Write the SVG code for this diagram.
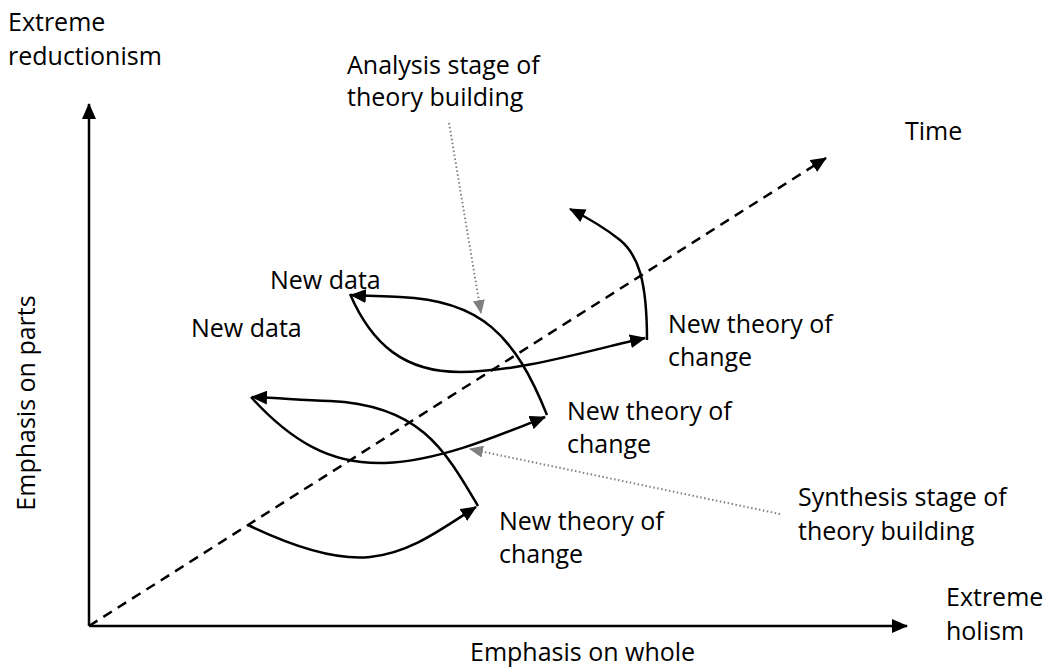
<svg xmlns="http://www.w3.org/2000/svg" width="1046" height="670" viewBox="0 0 1046 670">
<style>
text{font-family:"Open Sans","Liberation Sans",sans-serif;font-size:25px;fill:#000}
.ln{fill:none;stroke:#000;stroke-width:2.5}
.dash{fill:none;stroke:#000;stroke-width:2.5;stroke-dasharray:10 7}
.dot{fill:none;stroke:#808080;stroke-width:2;stroke-dasharray:1.5 2.5}
</style>
<defs>
<marker id="ah" markerUnits="userSpaceOnUse" markerWidth="16" markerHeight="14" refX="15" refY="7" orient="auto"><path d="M0,0 L16,7 L0,14 z" fill="#000"/></marker>
<marker id="ahg" markerUnits="userSpaceOnUse" markerWidth="14" markerHeight="12" refX="13" refY="6" orient="auto"><path d="M0,0 L14,6 L0,12 z" fill="#808080"/></marker>
</defs>
<g id="axes">
<path class="ln" d="M89,626 L89,104" marker-end="url(#ah)"/>
<path class="ln" d="M89,626 L907,626" marker-end="url(#ah)"/>
<path class="dash" d="M89,626 L826,158" marker-end="url(#ah)"/>
</g>
<g id="connectors">
<path class="ln" d="M547,415 C515,335 480,300 400,297 C380,296 365,296 351,295" marker-end="url(#ah)"/>
<path class="ln" d="M350,294 C372,345 405,372 460,372 C520,372 590,350 645,338" marker-end="url(#ah)"/>
<path class="ln" d="M647,340 C647,280 638,255 620,240 C605,228 588,218 570,209" marker-end="url(#ah)"/>
<path class="ln" d="M478,506 C445,450 420,405 330,401 C300,400 280,398 252,397" marker-end="url(#ah)"/>
<path class="ln" d="M251,397 C290,440 330,465 385,463 C440,461 500,435 545,417" marker-end="url(#ah)"/>
<path class="ln" d="M248,525 C300,550 340,560 370,557 C410,553 440,530 476,507" marker-end="url(#ah)"/>
<path class="dot" d="M449,123 L481,313" marker-end="url(#ahg)"/>
<path class="dot" d="M780,514 L470,449" marker-end="url(#ahg)"/>
</g>
<g id="label-reductionism"><text x="8" y="31">Extreme</text><text x="8" y="65">reductionism</text></g>
<g id="label-analysis"><text x="347" y="74">Analysis stage of</text><text x="347" y="106">theory building</text></g>
<g id="label-time"><text x="905" y="140">Time</text></g>
<g id="label-newdata-1"><text x="270" y="289">New data</text></g>
<g id="label-newdata-2"><text x="191" y="337">New data</text></g>
<g id="label-theory-3"><text x="668" y="333">New theory of</text><text x="668" y="366">change</text></g>
<g id="label-theory-2"><text x="567" y="420">New theory of</text><text x="567" y="453">change</text></g>
<g id="label-synthesis"><text x="798" y="506">Synthesis stage of</text><text x="798" y="540">theory building</text></g>
<g id="label-theory-1"><text x="499" y="530">New theory of</text><text x="499" y="563">change</text></g>
<g id="label-holism"><text x="946" y="606">Extreme</text><text x="946" y="640">holism</text></g>
<g id="label-whole"><text x="470" y="661">Emphasis on whole</text></g>
<g id="label-parts"><text transform="translate(35,403) rotate(-90)" text-anchor="middle">Emphasis on parts</text></g>
</svg>
